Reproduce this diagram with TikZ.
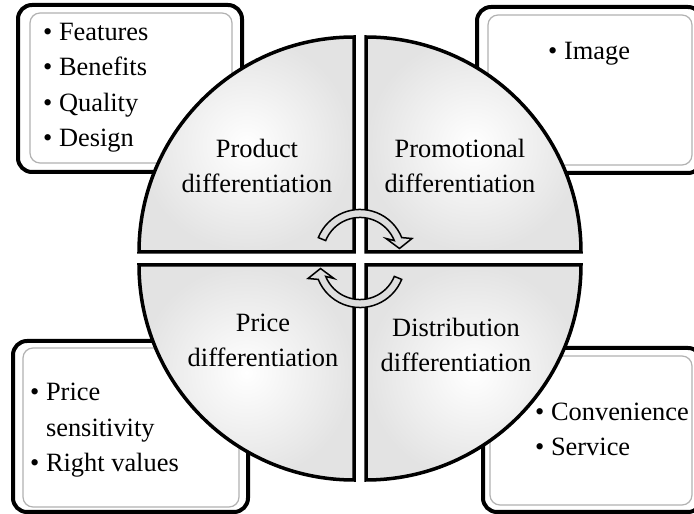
\documentclass[tikz,border=0pt]{standalone}
\usepackage{fontspec}
\setmainfont{Liberation Serif}

\begin{document}
\begin{tikzpicture}[x=1pt, y=1pt,
        quad/.style={draw, line width=3.5pt, inner color=white, outer color=black!11},
        outerbox/.style={draw, line width=4pt, rounded corners=14pt, fill=white},
        innerbox/.style={draw=black!30, line width=1.2pt, rounded corners=10pt},
        quadtext/.style={align=center, inner sep=0pt, anchor=base, font=\fontsize{26.4}{35.5}\selectfont},
        itemlist/.style={align=left, inner sep=0pt, anchor=base west, font=\fontsize{26.4}{35.5}\selectfont},
        cyclearrow/.style={draw, line width=1.5pt, fill=black!13, line join=miter}
    ]
        \useasboundingbox (0,0) rectangle (694,514);
        \coordinate (ctr) at (360,255.5);

        % boxes behind the circle
        \draw[outerbox] (18,342) rectangle (242,509);
        \draw[innerbox] (30,351) rectangle (232,501);
        \draw[outerbox] (477,341) rectangle (702,507);
        \draw[innerbox] (488,349) rectangle (692,499);
        \draw[outerbox] (13,2) rectangle (248,173);
        \draw[innerbox] (23,7) rectangle (239,166);
        \draw[outerbox] (483,2) rectangle (702,166);
        \draw[innerbox] (490,9) rectangle (692,158);

        % anchor base sits on the last line
        \node[itemlist] (features) at (43,367) {• Features\\• Benefits\\• Quality\\• Design};
        \node[itemlist] (image) at (548,454) {• Image};
        \node[itemlist] (pricing) at (30,42) {• Price\\\hphantom{• }sensitivity\\• Right values};
        \node[itemlist] (service) at (535,58) {• Convenience\\• Service};

        % quadrants
        \draw[quad] (354,262) -- (139,262) arc[start angle=180, end angle=90, radius=215pt] -- cycle;
        \draw[quad] (366,262) -- (366,477) arc[start angle=90, end angle=0, radius=215pt] -- cycle;
        \draw[quad] (354,249) -- (354,34) arc[start angle=270, end angle=180, radius=215pt] -- cycle;
        \draw[quad] (366,249) -- (581,249) arc[start angle=0, end angle=-90, radius=215pt] -- cycle;

        \node[quadtext] (product) at (257,321) {Product\\differentiation};
        \node[quadtext] (promo) at (460,321) {Promotional\\differentiation};
        \node[quadtext] (price) at (263,147) {Price\\differentiation};
        \node[quadtext] (distrib) at (456,142) {Distribution\\differentiation};

        % cycle arrows
        \foreach \turn in {0,180}
            \filldraw[cyclearrow, shift={(ctr)}, rotate=\turn] (-41.7,20.9) arc[start angle=158, end angle=22, radius=45pt]
                -- (52,20) -- (39.5,10) -- (26,20) -- (34.3,17.9) arc[start angle=22, end angle=158, radius=37pt] -- cycle;

    \end{tikzpicture}
\end{document}
